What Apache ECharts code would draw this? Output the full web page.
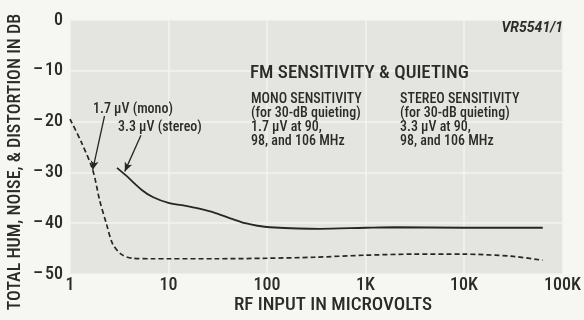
<!DOCTYPE html>
<html>
<head>
<meta charset="utf-8">
<script src="https://cdn.jsdelivr.net/npm/echarts@6/dist/echarts.min.js"></script>
<style>
  html, body { margin: 0; padding: 0; background: #f6f6f3; }
  #chart { width: 584px; height: 320px; }
</style>
</head>
<body>
<div id="chart"></div>
<script>
// Tick labels
var xTickValues = [1, 10, 100, 1000, 10000, 100000];
var xTickLabels = ['1', '10', '100', '1K', '10K', '100K'];
var yTickValues = [0, -10, -20, -30, -40, -50];
var yTickLabels = ['0', '\u2013\u200a10', '\u2013\u200a20', '\u2013\u200a30', '\u2013\u200a40', '\u2013\u200a50'];

// Mono response (dashed): RF input in microvolts vs. noise + distortion in dB
var monoX = [1, 1.3, 1.7, 2.0, 2.35, 2.7, 3.3, 4.3, 7, 10, 30, 100, 300, 1000, 3000, 10000, 30000, 63000];
var monoY = [-19.5, -24, -29.5, -35.5, -40.2, -44, -46.1, -46.9, -47, -47, -47, -46.9, -46.7, -46.3, -46.1, -46.1, -46.5, -47.3];

// Stereo response (solid)
var stereoX = [3.0, 3.7, 5.4, 7, 10, 15, 20, 30, 45, 60, 80, 107, 340, 1000, 2000, 10000, 63000];
var stereoY = [-29.1, -30.6, -33.5, -34.9, -36.0, -36.6, -37.1, -38.0, -39.2, -40.0, -40.5, -40.8, -41.1, -40.9, -40.8, -40.9, -40.9];

// Sensitivity call-outs: [start of leader, arrow tip]
var monoLeader = [[2.24, -18.9], [1.7, -29.5]];
var stereoLeader = [[5.25, -22.7], [3.6, -29.8]];

function pairs(xs, ys) {
  return xs.map(function (x, i) { return [x, ys[i]]; });
}

var FONT = "'Roboto Condensed', 'DejaVu Sans Condensed', sans-serif";
var W = '500 ';
var INK = '#2b2b28';
var LINE = '#262623';

var chart = echarts.init(document.getElementById('chart'), null, { renderer: 'canvas' });

function leader(pts, curveness) {
  return {
    silent: true,
    symbol: ['none', 'arrow'],
    symbolSize: [6, 9],
    label: { show: false },
    lineStyle: { color: LINE, width: 1.3, type: 'solid', curveness: curveness },
    data: [[{ coord: pts[0] }, { coord: pts[1] }]]
  };
}

chart.setOption({
  backgroundColor: '#f6f6f3',
  animation: false,
  grid: {
    left: 70, right: 14, top: 20, bottom: 46,
    show: true, backgroundColor: '#e4e4e1', borderWidth: 0
  },
  xAxis: {
    type: 'log', logBase: 10, min: 1, max: 100000,
    axisLine: { show: false },
    axisTick: { show: false },
    minorTick: { show: false },
    splitLine: { show: true, lineStyle: { color: '#f3f3f1', width: 1.5 } },
    axisLabel: {
      margin: 2,
      fontFamily: FONT, fontWeight: 500, fontSize: 18, color: INK,
      formatter: function (v) {
        var i = xTickValues.findIndex(function (t) { return Math.abs(Math.log10(t) - Math.log10(v)) < 1e-6; });
        return i >= 0 ? xTickLabels[i] : '';
      }
    }
  },
  yAxis: {
    type: 'value', min: -50, max: 0, interval: 10,
    axisLine: { show: false },
    axisTick: { show: false },
    splitLine: { show: true, lineStyle: { color: '#f3f3f1', width: 1.5 } },
    axisLabel: {
      margin: 7,
      fontFamily: FONT, fontWeight: 500, fontSize: 18, color: INK,
      formatter: function (v) {
        var i = yTickValues.indexOf(v);
        return i >= 0 ? yTickLabels[i] : '';
      }
    }
  },
  series: [
    {
      name: 'Mono',
      type: 'line',
      data: pairs(monoX, monoY),
      smooth: 0.3,
      showSymbol: false,
      lineStyle: { color: LINE, width: 1.7, type: [5, 3] },
      markLine: leader(monoLeader, 0.1)
    },
    {
      name: 'Stereo',
      type: 'line',
      data: pairs(stereoX, stereoY),
      smooth: 0.3,
      showSymbol: false,
      lineStyle: { color: LINE, width: 1.8 },
      markLine: leader(stereoLeader, 0.2)
    }
  ],
  graphic: {
    elements: [
      {
        type: 'text', x: 15, y: 162, rotation: Math.PI / 2, z: 100,
        style: {
          text: 'TOTAL HUM, NOISE, & DISTORTION IN DB',
          font: W + '18px ' + FONT, fill: INK, align: 'center', verticalAlign: 'middle'
        }
      },
      {
        type: 'text', x: 333, y: 305, z: 100,
        style: { text: 'RF INPUT IN MICROVOLTS', font: W + '19px ' + FONT, fill: INK, align: 'center', verticalAlign: 'middle' }
      },
      {
        type: 'text', x: 563, y: 28, z: 100,
        style: { text: 'VR5541/1', font: 'italic bold 14px Roboto, sans-serif', fill: INK, align: 'right', verticalAlign: 'middle' }
      },
      {
        type: 'text', x: 250, y: 73, z: 100,
        style: { text: 'FM SENSITIVITY & QUIETING', font: W + '19px ' + FONT, fill: INK, align: 'left', verticalAlign: 'middle' }
      },
      {
        type: 'text', x: 251, y: 92, z: 100,
        style: {
          text: 'MONO SENSITIVITY\n(for 30-dB quieting)\n1.7 \u03bcV at 90,\n98, and 106 MHz',
          font: W + '14px ' + FONT, lineHeight: 14, fill: INK, align: 'left', verticalAlign: 'top'
        }
      },
      {
        type: 'text', x: 400, y: 92, z: 100,
        style: {
          text: 'STEREO SENSITIVITY\n(for 30-dB quieting)\n3.3 \u03bcV at 90,\n98, and 106 MHz',
          font: W + '14px ' + FONT, lineHeight: 14, fill: INK, align: 'left', verticalAlign: 'top'
        }
      },
      {
        type: 'text', x: 93, y: 109, z: 100,
        style: { text: '1.7 \u03bcV (mono)', font: W + '14px ' + FONT, fill: INK, align: 'left', verticalAlign: 'middle' }
      },
      {
        type: 'text', x: 118, y: 127, z: 100,
        style: { text: '3.3 \u03bcV (stereo)', font: W + '14px ' + FONT, fill: INK, align: 'left', verticalAlign: 'middle' }
      }
    ]
  }
});
</script>
</body>
</html>
